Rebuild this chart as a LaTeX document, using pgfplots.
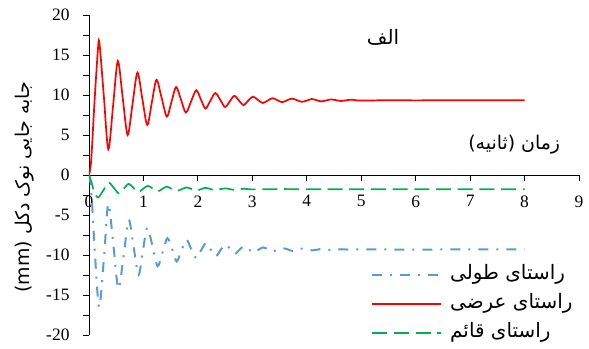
\documentclass[border=0pt]{standalone}
\usepackage{pgfplots}
\pgfplotsset{compat=1.18}
\usepackage{fontspec}
\setmainfont{Liberation Serif}
\newfontfamily\numfont{Liberation Serif}
\newfontfamily\arabicfont[Script=Arabic]{DejaVu Sans}
\TeXXeTstate=1
\definecolor{seriesblue}{RGB}{91,155,213}
\definecolor{seriesred}{RGB}{255,0,0}
\definecolor{seriesgreen}{RGB}{0,176,80}

% tip displacement, longitudinal direction (mm)
\pgfplotstableread{
t y
0 0
0.04 -1.8
0.10 -8.8
0.16 -15.1
0.20 -16.25
0.28 -9.9
0.355 -3.6
0.45 -8.9
0.54 -14.2
0.64 -9.9
0.73 -5.6
0.82 -9.0
0.91 -12.5
0.99 -9.5
1.07 -6.6
1.17 -9.0
1.26 -11.4
1.35 -9.7
1.44 -7.9
1.53 -9.3
1.61 -10.8
1.70 -9.4
1.79 -8.1
1.88 -9.3
1.97 -10.4
2.06 -9.4
2.15 -8.5
2.24 -9.35
2.33 -10.15
2.42 -9.35
2.51 -8.7
2.60 -9.3
2.68 -9.85
2.77 -9.3
2.85 -8.9
2.94 -9.3
3.02 -9.7
3.11 -9.35
3.20 -9.05
3.29 -9.3
3.38 -9.55
3.47 -9.3
3.56 -9.15
3.65 -9.3
3.74 -9.5
3.83 -9.3
3.92 -9.2
4.01 -9.3
4.10 -9.42
4.28 -9.25
4.46 -9.38
4.64 -9.28
4.82 -9.35
5.0 -9.3
6.0 -9.32
7.0 -9.3
8.0 -9.3
}\longitudinal

% tip displacement, transverse direction (mm)
\pgfplotstableread{
t y
0 0
0.04 1.8
0.10 9.0
0.16 15.3
0.19 16.6
0.272 9.9
0.355 3.2
0.443 8.7
0.53 14.25
0.62 9.6
0.71 5.0
0.80 8.9
0.89 12.8
0.98 9.5
1.07 6.25
1.155 9.1
1.24 11.9
1.335 9.6
1.43 7.3
1.515 9.15
1.60 11.0
1.69 9.4
1.78 7.8
1.875 9.2
1.97 10.6
2.055 9.45
2.14 8.3
2.23 9.3
2.32 10.25
2.41 9.4
2.50 8.5
2.585 9.2
2.67 9.9
2.755 9.3
2.84 8.75
2.925 9.3
3.01 9.8
3.10 9.4
3.19 9.0
3.28 9.3
3.37 9.6
3.46 9.35
3.55 9.1
3.64 9.35
3.73 9.55
3.82 9.35
3.91 9.15
4.0 9.3
4.09 9.5
4.18 9.35
4.27 9.2
4.36 9.33
4.45 9.45
4.54 9.35
4.63 9.25
4.72 9.33
4.81 9.42
4.90 9.35
5.0 9.3
5.5 9.35
6.0 9.33
7.0 9.35
8.0 9.35
}\transverse

% tip displacement, vertical direction (mm)
\pgfplotstableread{
t y
0 0
0.05 -1.0
0.10 -2.2
0.17 -2.8
0.265 -1.9
0.36 -0.95
0.455 -1.6
0.55 -2.3
0.64 -1.7
0.73 -1.1
0.815 -1.6
0.90 -2.15
0.99 -1.75
1.08 -1.35
1.17 -1.7
1.26 -2.05
1.345 -1.75
1.43 -1.45
1.52 -1.75
1.61 -2.0
1.70 -1.78
1.79 -1.55
1.88 -1.75
1.97 -1.95
2.055 -1.78
2.14 -1.6
2.23 -1.75
2.32 -1.9
2.50 -1.68
2.67 -1.85
2.85 -1.72
3.0 -1.8
3.5 -1.76
4.0 -1.78
5.0 -1.77
6.0 -1.77
7.0 -1.77
8.0 -1.77
}\vertical

\begin{document}
\begin{tikzpicture}
\path[use as bounding box] (-89bp,-14bp) rectangle (500bp,335bp);
\begin{axis}[
  at={(0,0)}, anchor=south west,
  scale only axis, width=490bp, height=320bp,
  xmin=0, xmax=9, ymin=-20, ymax=20,
  axis lines=middle,
  axis line style={-, black, line width=0.8bp},
  xtick={0,...,9}, ytick={-20,-15,...,20},
  minor ytick={-17.5,-12.5,...,17.5},
  tick align=outside,
  major tick length=6bp, minor tick length=6bp,
  tick style={black, line width=0.8bp},
  hide obscured x ticks=false, hide obscured y ticks=false,
  /pgf/number format/assume math mode=true,
  ticklabel style={font=\numfont\fontsize{17.5}{20}\selectfont},
  xticklabel style={anchor=north, yshift=-11bp},
  yticklabel style={anchor=east, xshift=-10bp},
  xlabel={\arabicfont\beginR زمان (ثانیه)\endR},
  ylabel={\arabicfont\beginR جابه جایی نوک دکل \beginL(mm)\endL\endR},
  every axis x label/.style={at={(axis cs:7.81,3.75)}, anchor=center,
    font=\arabicfont\fontsize{19}{22}\selectfont},
  every axis y label/.style={at={(axis cs:-1.19,-1.5)}, anchor=center,
    rotate=90, font=\arabicfont\fontsize{19}{22}\selectfont},
  legend style={at={(axis cs:5.18,-11.5)}, anchor=north west,
    draw=none, fill=none, inner sep=0pt, row sep=13bp,
    nodes={inner sep=0pt, text height=12bp, text depth=4bp}},
  legend cell align=left,
  legend image code/.code={\draw[#1] (0bp,0bp) -- (69bp,0bp) node[right=0pt, minimum width=8bp] {};},
]
\addplot[seriesblue, line width=2bp, smooth,
  dash pattern=on 10bp off 8bp on 2bp off 8bp] table[x=t, y=y] {\longitudinal};
\addlegendentry{\arabicfont\fontsize{20}{22}\selectfont\beginR راستای طولی\endR}
\addplot[seriesred, line width=1.7bp, smooth] table[x=t, y=y] {\transverse};
\addlegendentry{\arabicfont\fontsize{20}{22}\selectfont\beginR راستای عرضی\endR}
\addplot[seriesgreen, line width=1.7bp, smooth,
  dash pattern=on 15bp off 6.7bp] table[x=t, y=y] {\vertical};
\addlegendentry{\arabicfont\fontsize{20}{22}\selectfont\beginR راستای قائم\endR}
\node[font=\arabicfont\fontsize{20}{22}\selectfont] at (axis cs:5.4,17.25) {\beginR الف\endR};
\end{axis}
\end{tikzpicture}
\end{document}
